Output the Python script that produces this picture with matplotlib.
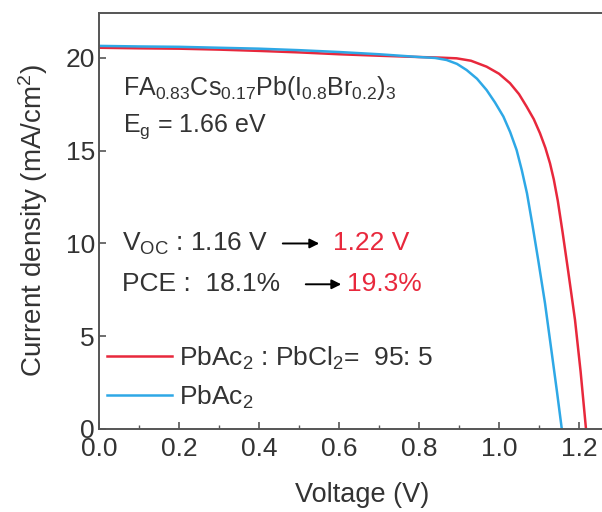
import numpy as np
import matplotlib
matplotlib.use("Agg")
import matplotlib.pyplot as plt

plt.rcParams['font.family'] = ['Liberation Sans', 'DejaVu Sans']
plt.rcParams['mathtext.fontset'] = 'custom'
plt.rcParams['mathtext.rm'] = 'Liberation Sans'
plt.rcParams['mathtext.it'] = 'Liberation Sans'

# J-V data
v_ac = [0.0, 0.1, 0.2, 0.3, 0.4, 0.5, 0.6, 0.7, 0.8, 0.84, 0.869, 0.895, 0.919,
        0.945, 0.969, 0.99, 1.011, 1.028, 1.044, 1.057, 1.070, 1.084, 1.098,
        1.115, 1.132, 1.145, 1.157]
j_ac = [20.65, 20.62, 20.6, 20.55, 20.5, 20.42, 20.32, 20.2, 20.05, 20.0, 19.89,
        19.68, 19.35, 18.88, 18.27, 17.6, 16.84, 16.0, 15.04, 13.95, 12.7, 10.95,
        9.11, 6.78, 4.08, 2.0, 0.0]

v_cl = [0.0, 0.1, 0.2, 0.3, 0.4, 0.5, 0.6, 0.7, 0.8, 0.85, 0.894, 0.93, 0.969,
        1.0, 1.0275, 1.05, 1.069, 1.087, 1.1025, 1.116, 1.1275, 1.137, 1.147,
        1.159, 1.173, 1.19, 1.204, 1.2175]
j_cl = [20.55, 20.52, 20.5, 20.45, 20.38, 20.3, 20.2, 20.12, 20.05, 20.02, 19.98,
        19.85, 19.53, 19.15, 18.64, 18.05, 17.38, 16.7, 15.94, 15.15, 14.32, 13.45,
        12.3, 10.6, 8.5, 5.88, 3.1, 0.0]

labels = ['PbAc$_2$ : PbCl$_2$=  95: 5', 'PbAc$_2$']
x_ticks = [0.0, 0.2, 0.4, 0.6, 0.8, 1.0, 1.2]
y_ticks = [0, 5, 10, 15, 20]

red = '#E8283C'
blue = '#2EA8E6'
txt = '#333333'

fig = plt.figure(figsize=(6.02, 5.12), dpi=100)
ax = fig.add_axes([99 / 602, 83 / 512, 520 / 602, 416.5 / 512])

ax.plot(v_cl, j_cl, color=red, lw=1.8, label=labels[0])
ax.plot(v_ac, j_ac, color=blue, lw=1.8, label=labels[1])

ax.set_xlim(0, 1.3)
ax.set_ylim(0, 22.45)
ax.set_xticks(x_ticks)
ax.set_xticklabels(['%.1f' % t for t in x_ticks])
ax.set_xticks(np.arange(0.1, 1.3, 0.2), minor=True)
ax.set_yticks(y_ticks)

for s in ax.spines.values():
    s.set_color('#555555')
    s.set_linewidth(1.4)
ax.tick_params(direction='in', length=5, width=1.2, colors='#555555',
               labelcolor=txt, labelsize=19)
ax.tick_params(axis='x', pad=6)
ax.tick_params(axis='y', pad=3)
ax.tick_params(which='minor', direction='in', length=3, width=1.0, colors='#555555')

ax.set_xlabel('Voltage (V)', fontsize=19.5, color=txt, va='center')
ax.set_ylabel('Current density (mA/cm$^2$)', fontsize=20, color=txt)
ax.xaxis.set_label_coords((362 - 99) / 520, -0.158)
ax.yaxis.set_label_coords(-0.094, 0.5)

fs = 18
ax.text(0.06, 18.0, 'FA$_{0.83}$Cs$_{0.17}$Pb(I$_{0.8}$Br$_{0.2}$)$_3$',
        fontsize=fs, color=txt, va='baseline')
ax.text(0.06, 16.0, 'E$_\\mathrm{g}$ = 1.66 eV', fontsize=fs, color=txt, va='baseline')

ax.text(0.058, 10.0, 'V$_\\mathrm{OC}$ : 1.16 V', fontsize=19, color=txt, va='center')
ax.annotate('', xy=(0.5575, 10.0), xytext=(0.4525, 10.0),
            arrowprops=dict(arrowstyle='-|>', color='black', lw=1.4, mutation_scale=14))
ax.text(0.585, 10.0, '1.22 V', fontsize=19, color=red, va='center')

ax.text(0.058, 7.8, 'PCE :  18.1%', fontsize=19, color=txt, va='center')
ax.annotate('', xy=(0.6125, 7.8), xytext=(0.51, 7.8),
            arrowprops=dict(arrowstyle='-|>', color='black', lw=1.4, mutation_scale=14))
ax.text(0.62, 7.8, '19.3%', fontsize=19, color=red, va='center')

ax.legend(loc='upper left', bbox_to_anchor=(-0.031, 0.26), frameon=False,
          fontsize=19, handlelength=2.46, handletextpad=0.3, labelspacing=0.45,
          labelcolor=txt)

fig.savefig('out.png', dpi=100)
